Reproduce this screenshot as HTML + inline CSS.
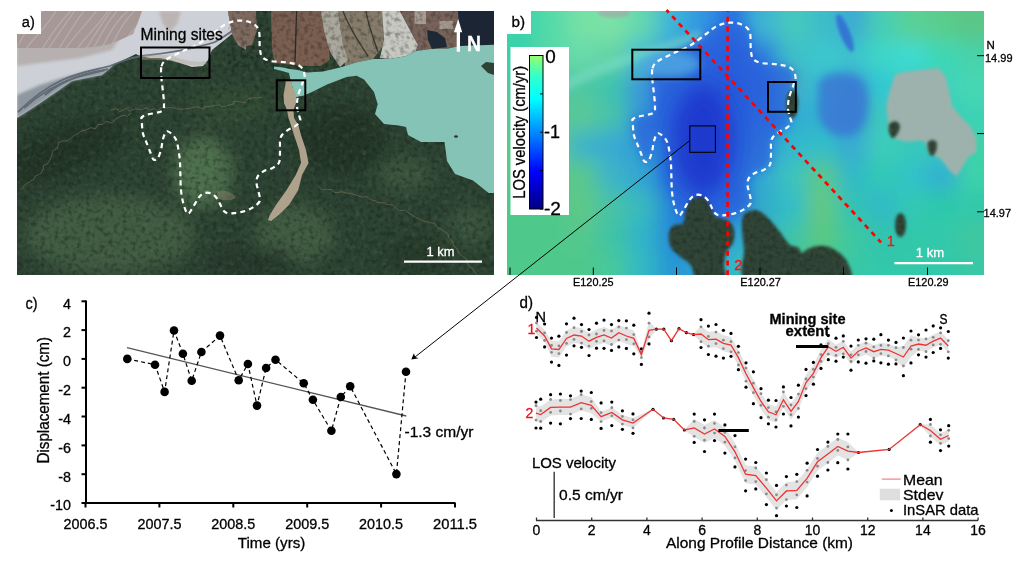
<!DOCTYPE html>
<html><head><meta charset="utf-8"><style>
html,body{margin:0;padding:0;background:#fff;width:1024px;height:564px;overflow:hidden}
svg{display:block;will-change:transform}
text{font-family:"Liberation Sans",sans-serif;stroke-width:0.3px}
</style></head><body>
<svg width="1024" height="564" viewBox="0 0 1024 564" font-family="Liberation Sans, sans-serif">
<defs>
<filter id="b05" x="-20%" y="-20%" width="140%" height="140%"><feGaussianBlur stdDeviation="0.6"/></filter>
<filter id="b2" x="-20%" y="-20%" width="140%" height="140%"><feGaussianBlur stdDeviation="1.5"/></filter>
<filter id="b3" x="-20%" y="-20%" width="140%" height="140%"><feGaussianBlur stdDeviation="3"/></filter>
<filter id="b4" x="-20%" y="-20%" width="140%" height="140%"><feGaussianBlur stdDeviation="4"/></filter>
<filter id="b8" x="-50%" y="-50%" width="200%" height="200%"><feGaussianBlur stdDeviation="8"/></filter>
<filter id="b10" x="-50%" y="-50%" width="200%" height="200%"><feGaussianBlur stdDeviation="10"/></filter>
<filter id="b12" x="-50%" y="-50%" width="200%" height="200%"><feGaussianBlur stdDeviation="14"/></filter>
<filter id="texd" x="0" y="0" width="100%" height="100%" color-interpolation-filters="sRGB"><feTurbulence type="fractalNoise" baseFrequency="0.22" numOctaves="2" seed="3"/><feColorMatrix type="matrix" values="0 0 0 0 0.08  0 0 0 0 0.12  0 0 0 0 0.09  2.2 0 0 0 -1.0"/></filter>
<filter id="texl" x="0" y="0" width="100%" height="100%" color-interpolation-filters="sRGB"><feTurbulence type="fractalNoise" baseFrequency="0.18" numOctaves="2" seed="11"/><feColorMatrix type="matrix" values="0 0 0 0 0.36  0 0 0 0 0.44  0 0 0 0 0.32  2.2 0 0 0 -1.1"/></filter>
</defs>
<clipPath id="ca"><rect x="17" y="11" width="477" height="264"/></clipPath>
<g clip-path="url(#ca)">
<rect x="17" y="11" width="477" height="264" fill="#2c4232"/>
<g filter="url(#b8)">
<ellipse cx="110" cy="235" rx="85" ry="40" fill="#405c42"/>
<ellipse cx="203" cy="172" rx="30" ry="36" fill="#4e6f4e"/>
<ellipse cx="295" cy="235" rx="40" ry="30" fill="#405c42"/>
<ellipse cx="405" cy="175" rx="28" ry="18" fill="#3a553e"/>
<ellipse cx="470" cy="225" rx="25" ry="20" fill="#38523c"/>
<ellipse cx="230" cy="105" rx="40" ry="20" fill="#324b36"/>
<ellipse cx="60" cy="152" rx="70" ry="24" fill="#213426" transform="rotate(-22 60 152)"/>
<ellipse cx="340" cy="140" rx="45" ry="35" fill="#233628"/>
<ellipse cx="250" cy="262" rx="45" ry="15" fill="#25382a"/>
<ellipse cx="420" cy="255" rx="35" ry="18" fill="#273a2c"/>
</g>
<rect x="17" y="11" width="477" height="264" filter="url(#texd)" opacity="0.55"/>
<path d="M19.9,189.5 L22.0,188.7 L24.9,184.7 L31.4,180.5 L33.5,179.8 L35.0,176.2 L40.7,173.8 L43.2,169.0 L43.8,165.1 L47.1,164.3 L49.8,160.0 L51.5,156.1 L52.8,150.7 L57.3,148.6 L58.7,142.5 L62.0,141.0 L65.9,141.1 L69.4,139.4 L75.7,134.4 L77.7,134.0 L80.3,131.7 L87.8,129.1 L91.0,127.6 L95.3,128.9 L98.3,124.2 L102.2,124.6 L106.3,121.5 L111.8,122.8 L115.4,119.3 L120.0,116.5 L123.6,115.2 L127.6,116.3 L131.0,113.0 M110.4,110.2 L116.6,108.6 L119.6,111.6 L126.5,108.3 L129.6,111.2 L132.2,109.8 L135.7,108.9 L142.2,109.5 L146.8,107.6 L149.4,110.3 L154.3,108.7 L157.6,110.5 L162.3,107.0 L167.1,108.0 L169.8,107.5 L173.8,107.8 L176.5,108.8 L180.6,109.2 L184.3,109.1 L191.1,108.0 L194.9,106.8 L199.1,107.2 L201.5,108.8 L206.2,106.4 L212.0,106.1 L215.5,105.1 L220.2,105.1 L221.6,106.9 L226.2,106.0 L233.4,104.0 L234.0,101.2 L239.0,101.6 L244.8,102.7 L248.3,98.7 L253.4,97.7 L256.1,98.2 L262.0,97.0 M318.7,186.4 L321.8,189.6 L327.0,189.3 L331.4,189.4 L334.8,192.5 L339.4,192.4 L340.6,191.6 L346.1,192.9 L350.5,193.5 L355.2,194.7 L356.6,195.2 L362.3,197.2 L366.3,196.5 L370.8,199.9 L375.1,200.6 L377.5,202.6 L384.7,202.8 L387.6,204.6 L393.1,204.8 L396.3,208.3 L399.3,210.8 L405.0,210.2 L409.1,213.2 L412.5,215.5 L415.1,217.0 L420.4,219.7 L424.0,221.2 L429.8,222.8 L434.4,223.1 L437.3,227.6 L441.6,229.3 L443.4,230.9 L448.0,234.1 L448.6,237.9 L452.7,241.7 L453.7,245.8 L457.4,249.0 L458.7,253.1 L463.3,256.7 L467.3,259.7 L466.6,261.5 L469.5,266.5 L471.9,268.0 L474.1,271.1 L478.0,276.0" stroke="#8c7c62" stroke-width="1" fill="none" opacity="0.5"/>
<rect x="17" y="11" width="477" height="264" filter="url(#texl)" opacity="0.35"/>
<path d="M17,11 L228,11 L230,22 L232,34 L222,42 L212,50 L208,60 L203,66 L192,67 L180,63 L170,60 L160,58 L150,58 L140,56 L136,54 L115,64 L102,75 L72,81 L59.5,89.7 L38,104.6 L17,118Z" fill="#cdd0d6" />
<path d="M17,44 L50,44 L78,45 L95,44 L110,41 L120,38 L112,50 L80,58 L40,63 L17,66Z" fill="#b6b0b0" filter="url(#b2)"/>
<path d="M17,11 L142,11 L138,22 L133,34 L120,40 L110,44 L95,47 L78,48 L50,48 L17,48Z" fill="#a69896" />
<clipPath id="pinkc"><path d="M17,11 L142,11 L138,22 L133,34 L120,40 L110,44 L95,47 L78,48 L50,48 L17,48Z"/></clipPath>
<path d="M-6.0,62 C5.0,46.0 15.0,27.0 33.5,8 M6.4,62 C19.9,48.5 24.8,24.5 45.8,8 M19.7,62 C26.0,41.2 45.5,31.8 57.5,8 M33.3,62 C44.5,46.2 54.1,26.8 73.7,8 M40.2,62 C49.9,44.8 62.4,28.2 76.7,8 M50.5,62 C61.1,45.6 72.0,27.4 85.6,8 M58.3,62 C66.5,43.2 82.0,29.8 98.8,8 M70.4,62 C77.7,42.3 95.1,30.7 110.2,8 M77.5,62 C88.5,45.9 98.6,27.1 113.3,8 M83.5,62 C96.5,48.0 102.6,25.0 119.8,8 M91.3,62 C105.1,48.9 109.4,24.1 131.5,8 M99.6,62 C113.3,48.7 117.9,24.3 137.8,8 M111.0,62 C118.6,42.6 135.3,30.4 151.6,8 M122.5,62 C136.2,48.7 140.8,24.3 162.9,8 M130.9,62 C139.8,43.9 154.0,29.1 166.9,8 M138.1,62 C144.6,41.5 163.5,31.5 174.9,8" clip-path="url(#pinkc)" stroke="#d2cccb" stroke-width="1.3" fill="none" opacity="0.38" filter="url(#b05)"/>
<path d="M228,11 L246,11 L246,50 L238,45 L232,34 L230,22Z" fill="#94807a" />
<path d="M159,11 L181,11 L177,24 L170,32 L163,24Z" fill="#bcb4b2" filter="url(#b2)"/>
<path d="M17,95 L40,85 L62,78 L85,72 L105,68 L115,64 L102,75 L72,81 L59.5,89.7 L38,104.6 L17,118Z" fill="#8e979f" filter="url(#b2)"/>
<g fill="none" stroke="#5c6670" stroke-width="1.8" opacity="0.9">
<path d="M18,112 C30,100 45,88 62,80 C80,72 95,70 110,66 C125,60 135,56 150,55 C175,52 200,47 215,42 C222,38 228,34 232,31"/>
<path d="M24,108 C40,94 56,84 74,78 C90,73 100,72 108,69"/>
<path d="M45,95 C60,82 80,74 105,70"/>
</g>
<path d="M142,56 C150,54 165,54 175,57 C185,60 195,63 205,61 L207,64 C195,67 185,65 175,62 C165,59 150,59 142,60Z" fill="#b5ab96" opacity="0.45"/>
<path d="M228,11 L256,11 L257,30 L252,45 L243,47 L236,40 L232,34 L230,22Z" fill="#806a60" />
<path d="M271,11 L326,11 L328,40 L330,60 L320,66 L300,66 L285,64 L275,63 L272,50Z" fill="#7a5e50" />
<path d="M296.6,11 L295,62" stroke="#2a2a28" stroke-width="1.3"/>
<path d="M338,11 L382,11 L384,45 L373,59 L356,62.5 L345,66 L343,45Z" fill="#877c6c" />
<path d="M343,11 C348,25 356,38 368,56 M366,11 C368,25 374,40 378,52" stroke="#3c3c36" stroke-width="1.4" fill="none"/>
<path d="M321,11 L338,11 L343,45 L348,60 L340,67 L330,52 L324,30Z" fill="#aaa79d" />
<path d="M382,11 L400,11 L410,30 L418,45 L416,51 L406,56 L390,59 L380,58 L384,40Z" fill="#c8c8c2" />
<path d="M400,11 L460,11 L460,46 L448,48.4 L431,49 L416,51 L418,45 L410,30Z" fill="#78625a" />
<path d="M414.6,11 L426,11 L426,24 L414.6,24Z" fill="#a89c92" />
<path d="M439.5,21 L452.8,21 L452.8,29 L439.5,29Z" fill="#a89c92" />
<rect x="228" y="11" width="232" height="60" filter="url(#texd)" opacity="0.45"/>
<path d="M458,11 L494,11 L494,44.7 L460,46Z" fill="#1b2533" />
<path d="M427,30 L437,32 L445,38 L447,47 L432,49 L428,40Z" fill="#1d2a36" />
<path d="M274,66.5 L283,67.5 L290,69 L298,70 L307,72.5 L323,71.6 L340,67.5 L356,62.5 L373,59 L390,59 L406,56 L416,51 L431,49 L448,48.4 L460,46 L494,44.7 L494,193 L488.6,193 L473,180.5 L455,174 L447,161 L444.5,142 L421,142 L408,135 L406,127 L398.8,125.4 L384,124 L375,114 L377.7,104.3 L374,92 L364,79.5 L356.6,75.8 L346.7,77 L327,84.4 L322,87 L312,92 L304,95.5 L296,97 L293,89 L290.5,80 L289,73 L282,71 L274,69Z" fill="#84c3b5" />
<path d="M481,66 L486,62 L494,63 L494,75 L488,73Z" fill="#2f4236" />
<ellipse cx="456" cy="136.5" rx="2" ry="1.3" fill="#333"/>
<path d="M217,192 C222,189 230,191 236,197 C233,201 226,201 219,199Z" fill="#9c8c74" opacity="0.4" filter="url(#b05)"/>
<path d="M286,80 L285,87 L283.5,95 L284,103 L287,110 L288.5,118 L290.9,125 L294,135 L299,150 L301,163 L295.7,175 L286.6,190 L276,205 L269.8,215 L268,220 L271,221 L278.8,215 L289,205 L298.3,190 L302,175 L308.6,163 L306,150 L301,135 L298.3,125 L294,118 L293.5,110 L296,103 L296,95 L292.5,87 L291,80Z" fill="#aea28c" filter="url(#b05)"/>
</g>
<path d="M161.5,66.3 C162.4,63 163.4,61.5 167,59 C170.6,56.5 177.5,53.7 183,51 C188.5,48.3 194.7,46.2 200,43 C205.3,39.8 210.7,35.2 215,32 C219.3,28.8 222.1,25.9 226,24 C229.9,22.1 234.3,20.8 238.5,20.6 C242.7,20.4 247.6,21.1 251,22.7 C254.4,24.3 257.2,25.9 258.7,30 C260.2,34 259.2,42.5 259.8,47 C260.4,51.5 260.2,54.4 262,56.7 C263.8,59 266.2,60 270.4,61 C274.6,62 282.4,61.6 287.4,62.5 C292.4,63.4 297.3,64.2 300.2,66.3 C303.1,68.3 304.1,72 304.5,74.8 C304.9,77.6 303.4,79.8 302.3,83.3 C301.2,86.8 298.9,92.1 298,96 C297.1,99.9 296.8,103.5 297,106.7 C297.2,109.9 298.5,112.9 299,115.3 C299.5,117.7 300.9,119.2 300.2,121 C299.5,122.8 296.8,125 294.9,126.4 C292.9,127.8 290.6,128.2 288.5,129.6 C286.4,131 283.4,133.1 282,135 C280.6,136.9 280.3,138.2 280,141 C279.7,143.8 280.2,148.4 280,152 C279.8,155.6 280.2,159.9 279,162.6 C277.8,165.3 275.1,166.6 272.6,168 C270.1,169.4 266.5,169.6 264,171 C261.5,172.4 258.9,174.3 257.7,176.4 C256.5,178.5 256.4,181.2 256.6,183.8 C256.8,186.5 258.2,189.4 258.7,192.3 C259.2,195.2 260.7,198.6 259.8,201 C258.9,203.4 255.9,205.3 253.4,207 C250.9,208.7 248.2,210 245,211 C241.8,212 237.5,212.9 234.3,213.2 C231.1,213.5 227.8,213.6 225.7,212.6 C223.6,211.6 222.9,209.3 221.5,207 C220.1,204.7 218.9,201 217.2,198.7 C215.4,196.4 213.3,194.3 211,193.4 C208.7,192.5 205.6,192.5 203.4,193.4 C201.2,194.3 199.9,196 198,198.7 C196.1,201.4 193.5,206.9 191.7,209.4 C189.9,211.9 188.8,214.7 187.4,213.6 C186,212.5 184.3,206.9 183.2,203 C182.1,199.1 181.5,194.7 181,190 C180.5,185.3 180.6,179.6 180.4,175 C180.2,170.4 180.3,166.8 180,162.6 C179.7,158.4 179.2,153.7 178.5,149.8 C177.8,145.9 177,141.8 175.7,139 C174.3,136.2 172,134 170.4,132.8 C168.8,131.6 167.4,130.7 166.2,131.7 C165,132.7 163.9,136 163,139 C162.1,142 161.9,146.6 161,149.8 C160.1,153 159,156.7 157.7,158.3 C156.4,159.9 154.7,160.5 153.4,159.4 C152.2,158.3 151.4,155 150.2,152 C149,149 147.2,144.5 146,141.3 C144.8,138.1 143.5,136.4 142.8,132.8 C142.1,129.2 141.9,122.6 141.7,120 C141.5,117.4 140.8,118.3 141.7,117.4 C142.6,116.5 143.6,115.9 147,114.8 C150.4,113.7 159.2,112.7 162,111 C164.8,109.3 163.8,107.8 164,104.6 C164.2,101.4 163.4,96.3 163,92 C162.6,87.7 161.8,83.3 161.5,79 C161.2,74.7 160.6,69.6 161.5,66.3Z" fill="none" stroke="#fff" stroke-width="2.2" stroke-dasharray="5 4"/>
<rect x="141" y="47.5" width="68.5" height="30.5" fill="none" stroke="#000" stroke-width="2"/>
<rect x="276.8" y="80.3" width="28.5" height="30" fill="none" stroke="#000" stroke-width="2"/>
<text x="140.5" y="40" font-size="16" text-anchor="start" fill="#000" stroke="#000" textLength="82.3" lengthAdjust="spacingAndGlyphs" >Mining sites</text>
<rect x="17" y="11" width="24" height="23" fill="#fff"/>
<text x="21.8" y="27" font-size="15.5" text-anchor="start" fill="#000" stroke="#000" textLength="13" lengthAdjust="spacingAndGlyphs" >a)</text>
<path d="M404,261.6 H482" stroke="#fff" stroke-width="2.2"/>
<text x="440.6" y="256" font-size="13" text-anchor="middle" fill="#fff" stroke="#fff" textLength="28" lengthAdjust="spacingAndGlyphs" >1 km</text>
<path d="M458.2,19 L462.2,32.3 L460,32.3 L460,51.8 L456.7,51.8 L456.7,32.3 L454,32.3Z" fill="#fff"/>
<text x="467" y="50.9" font-size="22" text-anchor="start" fill="#fff" stroke="#fff" textLength="14" lengthAdjust="spacingAndGlyphs" font-weight="bold" >N</text>
<clipPath id="cb"><rect x="507" y="11" width="477" height="264"/></clipPath>
<g clip-path="url(#cb)">
<rect x="507" y="11" width="477" height="264" fill="#42c49c"/>
<g filter="url(#b10)">
<rect x="477" y="-19" width="31" height="31" fill="#37d4aa"/>
<rect x="507" y="-19" width="31" height="31" fill="#37d4aa"/>
<rect x="537" y="-19" width="31" height="31" fill="#55daa8"/>
<rect x="567" y="-19" width="31" height="31" fill="#76e1a5"/>
<rect x="597" y="-19" width="31" height="31" fill="#7ae2a6"/>
<rect x="627" y="-19" width="31" height="31" fill="#64d7af"/>
<rect x="657" y="-19" width="31" height="31" fill="#3cb4d7"/>
<rect x="687" y="-19" width="31" height="31" fill="#3296e1"/>
<rect x="717" y="-19" width="31" height="31" fill="#286ee1"/>
<rect x="747" y="-19" width="31" height="31" fill="#3cb4d2"/>
<rect x="777" y="-19" width="31" height="31" fill="#46c8be"/>
<rect x="807" y="-19" width="31" height="31" fill="#3cbec8"/>
<rect x="837" y="-19" width="31" height="31" fill="#3caad2"/>
<rect x="867" y="-19" width="31" height="31" fill="#46cdb4"/>
<rect x="897" y="-19" width="31" height="31" fill="#5ad096"/>
<rect x="927" y="-19" width="31" height="31" fill="#5acd8c"/>
<rect x="957" y="-19" width="31" height="31" fill="#5ac687"/>
<rect x="987" y="-19" width="31" height="31" fill="#5ac687"/>
<rect x="477" y="11" width="31" height="31" fill="#37d4aa"/>
<rect x="507" y="11" width="31" height="31" fill="#37d4aa"/>
<rect x="537" y="11" width="31" height="31" fill="#55daa8"/>
<rect x="567" y="11" width="31" height="31" fill="#76e1a5"/>
<rect x="597" y="11" width="31" height="31" fill="#7ae2a6"/>
<rect x="627" y="11" width="31" height="31" fill="#64d7af"/>
<rect x="657" y="11" width="31" height="31" fill="#3cb4d7"/>
<rect x="687" y="11" width="31" height="31" fill="#3296e1"/>
<rect x="717" y="11" width="31" height="31" fill="#286ee1"/>
<rect x="747" y="11" width="31" height="31" fill="#3cb4d2"/>
<rect x="777" y="11" width="31" height="31" fill="#46c8be"/>
<rect x="807" y="11" width="31" height="31" fill="#3cbec8"/>
<rect x="837" y="11" width="31" height="31" fill="#3caad2"/>
<rect x="867" y="11" width="31" height="31" fill="#46cdb4"/>
<rect x="897" y="11" width="31" height="31" fill="#5ad096"/>
<rect x="927" y="11" width="31" height="31" fill="#5acd8c"/>
<rect x="957" y="11" width="31" height="31" fill="#5ac687"/>
<rect x="987" y="11" width="31" height="31" fill="#5ac687"/>
<rect x="477" y="41" width="31" height="31" fill="#3cd0a8"/>
<rect x="507" y="41" width="31" height="31" fill="#3cd0a8"/>
<rect x="537" y="41" width="31" height="31" fill="#5ad7a8"/>
<rect x="567" y="41" width="31" height="31" fill="#69daac"/>
<rect x="597" y="41" width="31" height="31" fill="#64d4a5"/>
<rect x="627" y="41" width="31" height="31" fill="#46bed2"/>
<rect x="657" y="41" width="31" height="31" fill="#3ca0dc"/>
<rect x="687" y="41" width="31" height="31" fill="#2864e1"/>
<rect x="717" y="41" width="31" height="31" fill="#2350dc"/>
<rect x="747" y="41" width="31" height="31" fill="#2d78dc"/>
<rect x="777" y="41" width="31" height="31" fill="#3cbec8"/>
<rect x="807" y="41" width="31" height="31" fill="#3cc8cd"/>
<rect x="837" y="41" width="31" height="31" fill="#3cc3cd"/>
<rect x="867" y="41" width="31" height="31" fill="#3cd7c8"/>
<rect x="897" y="41" width="31" height="31" fill="#3cdcd2"/>
<rect x="927" y="41" width="31" height="31" fill="#3cd7b4"/>
<rect x="957" y="41" width="31" height="31" fill="#46d2aa"/>
<rect x="987" y="41" width="31" height="31" fill="#46d2aa"/>
<rect x="477" y="71" width="31" height="31" fill="#50c8a0"/>
<rect x="507" y="71" width="31" height="31" fill="#50c8a0"/>
<rect x="537" y="71" width="31" height="31" fill="#50c8a0"/>
<rect x="567" y="71" width="31" height="31" fill="#50c8a0"/>
<rect x="597" y="71" width="31" height="31" fill="#3cc3af"/>
<rect x="627" y="71" width="31" height="31" fill="#3c96d7"/>
<rect x="657" y="71" width="31" height="31" fill="#2864dc"/>
<rect x="687" y="71" width="31" height="31" fill="#234bd7"/>
<rect x="717" y="71" width="31" height="31" fill="#1e3cd7"/>
<rect x="747" y="71" width="31" height="31" fill="#2864dc"/>
<rect x="777" y="71" width="31" height="31" fill="#46aac8"/>
<rect x="807" y="71" width="31" height="31" fill="#32bed2"/>
<rect x="837" y="71" width="31" height="31" fill="#37a0d2"/>
<rect x="867" y="71" width="31" height="31" fill="#32c8d2"/>
<rect x="897" y="71" width="31" height="31" fill="#3ccdc3"/>
<rect x="927" y="71" width="31" height="31" fill="#3cd2be"/>
<rect x="957" y="71" width="31" height="31" fill="#46d7b4"/>
<rect x="987" y="71" width="31" height="31" fill="#46d7b4"/>
<rect x="477" y="101" width="31" height="31" fill="#55c896"/>
<rect x="507" y="101" width="31" height="31" fill="#55c896"/>
<rect x="537" y="101" width="31" height="31" fill="#55c896"/>
<rect x="567" y="101" width="31" height="31" fill="#5ac896"/>
<rect x="597" y="101" width="31" height="31" fill="#46c3aa"/>
<rect x="627" y="101" width="31" height="31" fill="#3296d7"/>
<rect x="657" y="101" width="31" height="31" fill="#285adc"/>
<rect x="687" y="101" width="31" height="31" fill="#1e37d2"/>
<rect x="717" y="101" width="31" height="31" fill="#234bd7"/>
<rect x="747" y="101" width="31" height="31" fill="#286edc"/>
<rect x="777" y="101" width="31" height="31" fill="#32aad2"/>
<rect x="807" y="101" width="31" height="31" fill="#32b4d2"/>
<rect x="837" y="101" width="31" height="31" fill="#3796d2"/>
<rect x="867" y="101" width="31" height="31" fill="#3cc8be"/>
<rect x="897" y="101" width="31" height="31" fill="#37cdbe"/>
<rect x="927" y="101" width="31" height="31" fill="#37cdbe"/>
<rect x="957" y="101" width="31" height="31" fill="#3cd2b4"/>
<rect x="987" y="101" width="31" height="31" fill="#3cd2b4"/>
<rect x="477" y="131" width="31" height="31" fill="#5fc88c"/>
<rect x="507" y="131" width="31" height="31" fill="#5fc88c"/>
<rect x="537" y="131" width="31" height="31" fill="#5fc88c"/>
<rect x="567" y="131" width="31" height="31" fill="#3cb4c8"/>
<rect x="597" y="131" width="31" height="31" fill="#37aad2"/>
<rect x="627" y="131" width="31" height="31" fill="#329bd7"/>
<rect x="657" y="131" width="31" height="31" fill="#2864dc"/>
<rect x="687" y="131" width="31" height="31" fill="#1932d2"/>
<rect x="717" y="131" width="31" height="31" fill="#2350d7"/>
<rect x="747" y="131" width="31" height="31" fill="#328cd7"/>
<rect x="777" y="131" width="31" height="31" fill="#32b9cd"/>
<rect x="807" y="131" width="31" height="31" fill="#32bec8"/>
<rect x="837" y="131" width="31" height="31" fill="#37aad2"/>
<rect x="867" y="131" width="31" height="31" fill="#3ccdb9"/>
<rect x="897" y="131" width="31" height="31" fill="#37c8b9"/>
<rect x="927" y="131" width="31" height="31" fill="#37c8b9"/>
<rect x="957" y="131" width="31" height="31" fill="#3cd2aa"/>
<rect x="987" y="131" width="31" height="31" fill="#3cd2aa"/>
<rect x="477" y="161" width="31" height="31" fill="#5ac88c"/>
<rect x="507" y="161" width="31" height="31" fill="#5ac88c"/>
<rect x="537" y="161" width="31" height="31" fill="#5ac88c"/>
<rect x="567" y="161" width="31" height="31" fill="#5ac88c"/>
<rect x="597" y="161" width="31" height="31" fill="#3cb4c8"/>
<rect x="627" y="161" width="31" height="31" fill="#32a5d2"/>
<rect x="657" y="161" width="31" height="31" fill="#2864dc"/>
<rect x="687" y="161" width="31" height="31" fill="#1e46d7"/>
<rect x="717" y="161" width="31" height="31" fill="#2864dc"/>
<rect x="747" y="161" width="31" height="31" fill="#32aad2"/>
<rect x="777" y="161" width="31" height="31" fill="#3cc3be"/>
<rect x="807" y="161" width="31" height="31" fill="#5ac88c"/>
<rect x="837" y="161" width="31" height="31" fill="#32b9c8"/>
<rect x="867" y="161" width="31" height="31" fill="#32c8b4"/>
<rect x="897" y="161" width="31" height="31" fill="#32c3c8"/>
<rect x="927" y="161" width="31" height="31" fill="#32afd2"/>
<rect x="957" y="161" width="31" height="31" fill="#3cd2aa"/>
<rect x="987" y="161" width="31" height="31" fill="#3cd2aa"/>
<rect x="477" y="191" width="31" height="31" fill="#50c88c"/>
<rect x="507" y="191" width="31" height="31" fill="#50c88c"/>
<rect x="537" y="191" width="31" height="31" fill="#50c88c"/>
<rect x="567" y="191" width="31" height="31" fill="#5fc887"/>
<rect x="597" y="191" width="31" height="31" fill="#46c3a5"/>
<rect x="627" y="191" width="31" height="31" fill="#37b9be"/>
<rect x="657" y="191" width="31" height="31" fill="#2887d7"/>
<rect x="687" y="191" width="31" height="31" fill="#2350dc"/>
<rect x="717" y="191" width="31" height="31" fill="#286edc"/>
<rect x="747" y="191" width="31" height="31" fill="#32aac8"/>
<rect x="777" y="191" width="31" height="31" fill="#32bec8"/>
<rect x="807" y="191" width="31" height="31" fill="#64c882"/>
<rect x="837" y="191" width="31" height="31" fill="#32c3b4"/>
<rect x="867" y="191" width="31" height="31" fill="#32b9c8"/>
<rect x="897" y="191" width="31" height="31" fill="#32c8b4"/>
<rect x="927" y="191" width="31" height="31" fill="#2dc8aa"/>
<rect x="957" y="191" width="31" height="31" fill="#32c8aa"/>
<rect x="987" y="191" width="31" height="31" fill="#32c8aa"/>
<rect x="477" y="221" width="31" height="31" fill="#50c88c"/>
<rect x="507" y="221" width="31" height="31" fill="#50c88c"/>
<rect x="537" y="221" width="31" height="31" fill="#50c88c"/>
<rect x="567" y="221" width="31" height="31" fill="#55c88c"/>
<rect x="597" y="221" width="31" height="31" fill="#41c3a5"/>
<rect x="627" y="221" width="31" height="31" fill="#32b4c8"/>
<rect x="657" y="221" width="31" height="31" fill="#288cd7"/>
<rect x="687" y="221" width="31" height="31" fill="#2878d7"/>
<rect x="717" y="221" width="31" height="31" fill="#32a0d2"/>
<rect x="747" y="221" width="31" height="31" fill="#32b4c8"/>
<rect x="777" y="221" width="31" height="31" fill="#3cc3aa"/>
<rect x="807" y="221" width="31" height="31" fill="#5ac882"/>
<rect x="837" y="221" width="31" height="31" fill="#3cc8a0"/>
<rect x="867" y="221" width="31" height="31" fill="#32c3af"/>
<rect x="897" y="221" width="31" height="31" fill="#32c8aa"/>
<rect x="927" y="221" width="31" height="31" fill="#32c8aa"/>
<rect x="957" y="221" width="31" height="31" fill="#3cc8a0"/>
<rect x="987" y="221" width="31" height="31" fill="#3cc8a0"/>
<rect x="477" y="251" width="31" height="31" fill="#50c88c"/>
<rect x="507" y="251" width="31" height="31" fill="#50c88c"/>
<rect x="537" y="251" width="31" height="31" fill="#50c88c"/>
<rect x="567" y="251" width="31" height="31" fill="#50c88c"/>
<rect x="597" y="251" width="31" height="31" fill="#46c89b"/>
<rect x="627" y="251" width="31" height="31" fill="#32b9c3"/>
<rect x="657" y="251" width="31" height="31" fill="#2896d4"/>
<rect x="687" y="251" width="31" height="31" fill="#2da0d2"/>
<rect x="717" y="251" width="31" height="31" fill="#32b9c8"/>
<rect x="747" y="251" width="31" height="31" fill="#3cc3aa"/>
<rect x="777" y="251" width="31" height="31" fill="#46c896"/>
<rect x="807" y="251" width="31" height="31" fill="#50c88c"/>
<rect x="837" y="251" width="31" height="31" fill="#37c8a5"/>
<rect x="867" y="251" width="31" height="31" fill="#32c8aa"/>
<rect x="897" y="251" width="31" height="31" fill="#32c8aa"/>
<rect x="927" y="251" width="31" height="31" fill="#32c8aa"/>
<rect x="957" y="251" width="31" height="31" fill="#37c8a5"/>
<rect x="987" y="251" width="31" height="31" fill="#37c8a5"/>
<rect x="477" y="281" width="31" height="31" fill="#50c88c"/>
<rect x="507" y="281" width="31" height="31" fill="#50c88c"/>
<rect x="537" y="281" width="31" height="31" fill="#50c88c"/>
<rect x="567" y="281" width="31" height="31" fill="#50c88c"/>
<rect x="597" y="281" width="31" height="31" fill="#46c89b"/>
<rect x="627" y="281" width="31" height="31" fill="#32b9c3"/>
<rect x="657" y="281" width="31" height="31" fill="#2896d4"/>
<rect x="687" y="281" width="31" height="31" fill="#2da0d2"/>
<rect x="717" y="281" width="31" height="31" fill="#32b9c8"/>
<rect x="747" y="281" width="31" height="31" fill="#3cc3aa"/>
<rect x="777" y="281" width="31" height="31" fill="#46c896"/>
<rect x="807" y="281" width="31" height="31" fill="#50c88c"/>
<rect x="837" y="281" width="31" height="31" fill="#37c8a5"/>
<rect x="867" y="281" width="31" height="31" fill="#32c8aa"/>
<rect x="897" y="281" width="31" height="31" fill="#32c8aa"/>
<rect x="927" y="281" width="31" height="31" fill="#32c8aa"/>
<rect x="957" y="281" width="31" height="31" fill="#37c8a5"/>
<rect x="987" y="281" width="31" height="31" fill="#37c8a5"/>
</g>
<path d="M560,82 C585,70 610,58 640,50 C660,45 680,38 700,30 L705,38 C685,46 660,55 640,60 C615,68 590,78 565,92Z" fill="#7adcc4" opacity="0.6" filter="url(#b3)"/>
<ellipse cx="614" cy="13" rx="16" ry="5" fill="#a8a0a8" opacity="0.6" filter="url(#b2)"/>
<path d="M652.5,68.3 C653.4,65 654.4,63.5 658,61 C661.6,58.5 668.5,55.7 674,53 C679.5,50.3 685.7,48.2 691,45 C696.3,41.8 701.7,37.2 706,34 C710.3,30.8 713.1,27.9 717,26 C720.9,24.1 725.3,22.8 729.5,22.6 C733.7,22.4 738.6,23.1 742,24.7 C745.4,26.3 748.2,27.9 749.7,32 C751.2,36 750.2,44.5 750.8,49 C751.3,53.5 751.2,56.4 753,58.7 C754.8,61 757.2,62 761.4,63 C765.6,64 773.4,63.6 778.4,64.5 C783.4,65.4 788.4,66.2 791.2,68.3 C794.1,70.3 795.1,74 795.5,76.8 C795.9,79.6 794.4,81.8 793.3,85.3 C792.2,88.8 789.9,94.1 789,98 C788.1,101.9 787.8,105.5 788,108.7 C788.2,111.9 789.5,114.9 790,117.3 C790.5,119.7 791.9,121.2 791.2,123 C790.5,124.8 787.9,127 785.9,128.4 C783.9,129.8 781.6,130.2 779.5,131.6 C777.4,133 774.4,135.1 773,137 C771.6,138.9 771.3,140.2 771,143 C770.7,145.8 771.2,150.4 771,154 C770.8,157.6 771.2,161.9 770,164.6 C768.8,167.3 766.1,168.6 763.6,170 C761.1,171.4 757.5,171.6 755,173 C752.5,174.4 749.9,176.3 748.7,178.4 C747.5,180.5 747.4,183.2 747.6,185.8 C747.8,188.5 749.2,191.4 749.7,194.3 C750.2,197.2 751.7,200.6 750.8,203 C749.9,205.4 746.9,207.3 744.4,209 C741.9,210.7 739.2,212 736,213 C732.8,214 728.5,214.9 725.3,215.2 C722.1,215.5 718.8,215.6 716.7,214.6 C714.6,213.6 713.9,211.3 712.5,209 C711.1,206.7 710,203 708.2,200.7 C706.5,198.4 704.3,196.3 702,195.4 C699.7,194.5 696.6,194.5 694.4,195.4 C692.2,196.3 691,198 689,200.7 C687,203.4 684.5,208.9 682.7,211.4 C680.9,213.9 679.8,216.7 678.4,215.6 C677,214.5 675.3,208.9 674.2,205 C673.1,201.1 672.5,196.7 672,192 C671.5,187.3 671.6,181.6 671.4,177 C671.2,172.4 671.3,168.8 671,164.6 C670.7,160.4 670.2,155.7 669.5,151.8 C668.8,147.9 668.1,143.8 666.7,141 C665.4,138.2 663,136 661.4,134.8 C659.8,133.6 658.4,132.7 657.2,133.7 C656,134.7 654.9,138 654,141 C653.1,144 652.9,148.6 652,151.8 C651.1,155 650,158.7 648.7,160.3 C647.4,161.9 645.6,162.5 644.4,161.4 C643.1,160.3 642.4,157 641.2,154 C640,151 638.2,146.5 637,143.3 C635.8,140.1 634.5,138.4 633.8,134.8 C633.1,131.2 632.9,124.6 632.7,122 C632.5,119.4 631.8,120.3 632.7,119.4 C633.6,118.5 634.6,117.9 638,116.8 C641.4,115.7 650.2,114.7 653,113 C655.8,111.3 654.8,109.8 655,106.6 C655.2,103.4 654.4,98.3 654,94 C653.6,89.7 652.8,85.3 652.5,81 C652.2,76.7 651.6,71.6 652.5,68.3Z" fill="#2a64dc" opacity="0.75" filter="url(#b4)"/>
<ellipse cx="703" cy="140" rx="30" ry="55" fill="#1a36cc" opacity="0.85" filter="url(#b10)"/>
<ellipse cx="670" cy="64" rx="30" ry="13" fill="#50a8e0" opacity="0.8" filter="url(#b4)"/>
<path d="M818,85 C820,74 835,72 850,74 C862,76 868,85 868,100 C868,118 862,134 848,136 C832,138 820,128 818,112Z" fill="#3a78d4" opacity="0.85" filter="url(#b4)"/>
<ellipse cx="845" cy="33" rx="5" ry="20" fill="#3066d4" opacity="0.8" transform="rotate(-22 845 33)" filter="url(#b2)"/>
<g filter="url(#b2)">
<path d="M894.6,76.1 L899.2,72.7 L938.4,68.1 L945.3,76.1 L948.8,90 L952.2,106.1 L961.4,117.6 L970.7,126.9 L976.4,138.4 L976.4,152.2 L968.3,156.8 L961.4,168.3 L956.8,176.4 L949.9,170.7 L940.7,159.1 L929.2,152.2 L924.5,140.7 L915.3,140.7 L906.1,141.8 L894.6,138.4 L888.8,126.9 L886.5,106.1 L888.8,94.6 L892.3,83.1Z" fill="#9db2ac" />
</g>
<mask id="pmask" maskUnits="userSpaceOnUse" x="500" y="0" width="500" height="290"><g fill="#fff" filter="url(#b2)"><path d="M693,198.8 C695.6,197.9 701.2,196.2 704.2,197.7 C707.2,199.2 708.9,204.5 710.8,207.6 C712.6,210.7 712.3,214.3 715.3,216.5 C718.3,218.7 725.5,218.7 728.6,220.9 C731.7,223.1 733.4,226.1 734.1,229.8 C734.8,233.5 734.3,239.4 733,243.1 C731.7,246.8 727.9,248.3 726.4,252 C724.9,255.7 724.5,260.6 724.1,265.3 C723.7,270 728.5,277.6 724.1,280 C719.7,282.4 703,282.4 697.5,280 C692,277.6 693.9,269.2 690.9,265.3 C687.9,261.4 683.1,259.4 679.8,256.4 C676.5,253.4 672.8,251.2 670.9,247.5 C669,243.8 668.3,237.9 668.7,234.2 C669.1,230.5 670.8,227.2 673.2,225.4 C675.6,223.6 681.1,225.4 683.1,223.2 C685.1,221 684.4,215.4 685.3,212.1 C686.2,208.8 687.4,205.4 688.7,203.2 C690,201 690.4,199.7 693,198.8Z"/><path d="M744.1,214.3 C746.3,211.4 751.9,209.9 755.2,209.9 C758.5,209.9 761,212.1 764,214.3 C767,216.5 770.2,220.2 772.9,223.2 C775.6,226.1 777.1,228.4 780,232 C782.9,235.6 786.7,242 790,245 C793.3,248 797.5,244.2 800,250 C802.5,255.8 814,275 805,280 C796,285 756.4,285 746.3,280 C736.1,275 744.8,258.5 744.1,249.8 C743.4,241.1 741.9,233.5 741.9,227.6 C741.9,221.7 741.9,217.2 744.1,214.3Z"/><path d="M800,255 C810,245 825,243 835,250 C845,255 850,265 852,275 L852,280 L800,280Z"/><path d="M889,125 C892,120 898,120 900,126 C899,132 896,138 892,138 C889,134 888,130 889,125Z"/><path d="M928,142 C931,139 936,139 937,144 C937,150 935,156 931,156 C928,152 927,147 928,142Z"/><ellipse cx="900.5" cy="225" rx="5.5" ry="12"/><ellipse cx="792" cy="104" rx="6" ry="14"/></g></mask>
<g mask="url(#pmask)">
<rect x="507" y="11" width="477" height="264" fill="#2f4336"/>
<rect x="507" y="11" width="477" height="264" filter="url(#texd)" opacity="0.5"/>
<rect x="507" y="11" width="477" height="264" filter="url(#texl)" opacity="0.2"/>
</g>
</g>
</g>
<path d="M652.5,68.3 C653.4,65 654.4,63.5 658,61 C661.6,58.5 668.5,55.7 674,53 C679.5,50.3 685.7,48.2 691,45 C696.3,41.8 701.7,37.2 706,34 C710.3,30.8 713.1,27.9 717,26 C720.9,24.1 725.3,22.8 729.5,22.6 C733.7,22.4 738.6,23.1 742,24.7 C745.4,26.3 748.2,27.9 749.7,32 C751.2,36 750.2,44.5 750.8,49 C751.3,53.5 751.2,56.4 753,58.7 C754.8,61 757.2,62 761.4,63 C765.6,64 773.4,63.6 778.4,64.5 C783.4,65.4 788.4,66.2 791.2,68.3 C794.1,70.3 795.1,74 795.5,76.8 C795.9,79.6 794.4,81.8 793.3,85.3 C792.2,88.8 789.9,94.1 789,98 C788.1,101.9 787.8,105.5 788,108.7 C788.2,111.9 789.5,114.9 790,117.3 C790.5,119.7 791.9,121.2 791.2,123 C790.5,124.8 787.9,127 785.9,128.4 C783.9,129.8 781.6,130.2 779.5,131.6 C777.4,133 774.4,135.1 773,137 C771.6,138.9 771.3,140.2 771,143 C770.7,145.8 771.2,150.4 771,154 C770.8,157.6 771.2,161.9 770,164.6 C768.8,167.3 766.1,168.6 763.6,170 C761.1,171.4 757.5,171.6 755,173 C752.5,174.4 749.9,176.3 748.7,178.4 C747.5,180.5 747.4,183.2 747.6,185.8 C747.8,188.5 749.2,191.4 749.7,194.3 C750.2,197.2 751.7,200.6 750.8,203 C749.9,205.4 746.9,207.3 744.4,209 C741.9,210.7 739.2,212 736,213 C732.8,214 728.5,214.9 725.3,215.2 C722.1,215.5 718.8,215.6 716.7,214.6 C714.6,213.6 713.9,211.3 712.5,209 C711.1,206.7 710,203 708.2,200.7 C706.5,198.4 704.3,196.3 702,195.4 C699.7,194.5 696.6,194.5 694.4,195.4 C692.2,196.3 691,198 689,200.7 C687,203.4 684.5,208.9 682.7,211.4 C680.9,213.9 679.8,216.7 678.4,215.6 C677,214.5 675.3,208.9 674.2,205 C673.1,201.1 672.5,196.7 672,192 C671.5,187.3 671.6,181.6 671.4,177 C671.2,172.4 671.3,168.8 671,164.6 C670.7,160.4 670.2,155.7 669.5,151.8 C668.8,147.9 668.1,143.8 666.7,141 C665.4,138.2 663,136 661.4,134.8 C659.8,133.6 658.4,132.7 657.2,133.7 C656,134.7 654.9,138 654,141 C653.1,144 652.9,148.6 652,151.8 C651.1,155 650,158.7 648.7,160.3 C647.4,161.9 645.6,162.5 644.4,161.4 C643.1,160.3 642.4,157 641.2,154 C640,151 638.2,146.5 637,143.3 C635.8,140.1 634.5,138.4 633.8,134.8 C633.1,131.2 632.9,124.6 632.7,122 C632.5,119.4 631.8,120.3 632.7,119.4 C633.6,118.5 634.6,117.9 638,116.8 C641.4,115.7 650.2,114.7 653,113 C655.8,111.3 654.8,109.8 655,106.6 C655.2,103.4 654.4,98.3 654,94 C653.6,89.7 652.8,85.3 652.5,81 C652.2,76.7 651.6,71.6 652.5,68.3Z" fill="none" stroke="#fff" stroke-width="2.2" stroke-dasharray="5 4"/>
<path d="M727.6,11 V275" stroke="#ff0000" stroke-width="2.7" stroke-dasharray="5 4.75" stroke-dashoffset="3.95" fill="none"/>
<path d="M666.5,10 L881,242.4" stroke="#ff0000" stroke-width="2.7" stroke-dasharray="5 4.8" stroke-dashoffset="1.5" fill="none"/>
<text x="886.8" y="246.4" font-size="14.5" text-anchor="start" fill="#ff1010" stroke="#ff1010" >1</text>
<text x="734.3" y="270" font-size="14.5" text-anchor="start" fill="#ff1010" stroke="#ff1010" >2</text>
<rect x="632.3" y="49.7" width="68" height="29.6" fill="none" stroke="#000" stroke-width="2"/>
<rect x="768" y="82" width="27.8" height="29.8" fill="none" stroke="#000" stroke-width="2"/>
<rect x="689.8" y="125.9" width="25.6" height="26.4" fill="none" stroke="#000" stroke-width="1.1"/>
<path d="M894.4,263.2 H973" stroke="#fff" stroke-width="2.2"/>
<text x="930" y="257" font-size="13" text-anchor="middle" fill="#fff" stroke="#fff" textLength="28.3" lengthAdjust="spacingAndGlyphs" >1 km</text>
<rect x="507" y="11" width="24" height="23" fill="#fff"/>
<text x="511.4" y="27.3" font-size="15.5" text-anchor="start" fill="#000" stroke="#000" textLength="13.6" lengthAdjust="spacingAndGlyphs" >b)</text>
<rect x="510.5" y="47" width="58.5" height="168" fill="#fff"/>
<linearGradient id="jet" x1="0" y1="1" x2="0" y2="0"><stop offset="0" stop-color="#000080"/><stop offset="0.24" stop-color="#0000ff"/><stop offset="0.48" stop-color="#0080ff"/><stop offset="0.72" stop-color="#00ffff"/><stop offset="0.865" stop-color="#33ffcc"/><stop offset="1" stop-color="#94ff6b"/></linearGradient>
<rect x="529.5" y="55.5" width="13.5" height="153.5" fill="url(#jet)" stroke="#000" stroke-width="1"/>
<path d="M540,55.5 H543" stroke="#000" stroke-width="1"/>
<path d="M540,93.9 H543" stroke="#000" stroke-width="1"/>
<path d="M540,132.2 H543" stroke="#000" stroke-width="1"/>
<path d="M540,170.6 H543" stroke="#000" stroke-width="1"/>
<path d="M540,209 H543" stroke="#000" stroke-width="1"/>
<text x="545.3" y="63.3" font-size="18.5" text-anchor="start" fill="#000" stroke="#000" textLength="10.5" lengthAdjust="spacingAndGlyphs" >0</text>
<text x="544" y="138.4" font-size="18" text-anchor="start" fill="#000" stroke="#000" >-1</text>
<text x="544" y="214.5" font-size="18.5" text-anchor="start" fill="#000" stroke="#000" textLength="17" lengthAdjust="spacingAndGlyphs" >-2</text>
<text transform="translate(524.6,198.8) rotate(-90)" stroke="#000" font-size="16" textLength="133" lengthAdjust="spacingAndGlyphs">LOS velocity (cm/yr)</text>
<g stroke="#000" stroke-width="1">
<path d="M510,267.5 V275"/>
<path d="M593.3,267.5 V275"/>
<path d="M676.5,267.5 V275"/>
<path d="M760,267.5 V275"/>
<path d="M843.5,267.5 V275"/>
<path d="M927.5,267.5 V275"/>
<path d="M977,55.7 H984"/>
<path d="M977,133.6 H984"/>
<path d="M977,211.8 H984"/>
</g>
<text x="593.3" y="286" font-size="11.5" text-anchor="middle" fill="#000" stroke="#000" textLength="40.5" lengthAdjust="spacingAndGlyphs" >E120.25</text>
<text x="760.6" y="286" font-size="11.5" text-anchor="middle" fill="#000" stroke="#000" textLength="40.5" lengthAdjust="spacingAndGlyphs" >E120.27</text>
<text x="928.3" y="286" font-size="11.5" text-anchor="middle" fill="#000" stroke="#000" textLength="40.5" lengthAdjust="spacingAndGlyphs" >E120.29</text>
<text x="986.5" y="48.5" font-size="11.5" text-anchor="start" fill="#000" stroke="#000" >N</text>
<text x="985" y="61.5" font-size="11.5" text-anchor="start" fill="#000" stroke="#000" textLength="27.5" lengthAdjust="spacingAndGlyphs" >14.99</text>
<text x="983.6" y="217" font-size="11.5" text-anchor="start" fill="#000" stroke="#000" textLength="27.5" lengthAdjust="spacingAndGlyphs" >14.97</text>
<path d="M689.3,140.9 L415,357" stroke="#000" stroke-width="1"/>
<path d="M411.3,359.6 L413.9,353.2 L415.2,356.9 L418.7,358.3Z" fill="#000"/>
<g stroke="#000" stroke-width="2" fill="none">
<path d="M86,300.5 V503 H455.5"/>
<path d="M81.5,301.3 H86"/>
<path d="M81.5,330.1 H86"/>
<path d="M81.5,358.9 H86"/>
<path d="M81.5,387.7 H86"/>
<path d="M81.5,416.5 H86"/>
<path d="M81.5,445.4 H86"/>
<path d="M81.5,474.2 H86"/>
<path d="M81.5,503 H86"/>
<path d="M85.5,503 V507.5"/>
<path d="M159.4,503 V507.5"/>
<path d="M233.3,503 V507.5"/>
<path d="M307.2,503 V507.5"/>
<path d="M381.1,503 V507.5"/>
<path d="M455,503 V507.5"/>
</g>
<text x="71" y="308.6" font-size="14.3" text-anchor="end" fill="#000" stroke="#000" >4</text>
<text x="71" y="337.4" font-size="14.3" text-anchor="end" fill="#000" stroke="#000" >2</text>
<text x="71" y="366.2" font-size="14.3" text-anchor="end" fill="#000" stroke="#000" >0</text>
<text x="71" y="395" font-size="14.3" text-anchor="end" fill="#000" stroke="#000" >-2</text>
<text x="71" y="423.8" font-size="14.3" text-anchor="end" fill="#000" stroke="#000" >-4</text>
<text x="71" y="452.7" font-size="14.3" text-anchor="end" fill="#000" stroke="#000" >-6</text>
<text x="71" y="481.5" font-size="14.3" text-anchor="end" fill="#000" stroke="#000" >-8</text>
<text x="71" y="510.3" font-size="14.3" text-anchor="end" fill="#000" stroke="#000" >-10</text>
<text x="85.5" y="529.2" font-size="14.3" text-anchor="middle" fill="#000" stroke="#000" textLength="44" lengthAdjust="spacingAndGlyphs" >2006.5</text>
<text x="159.4" y="529.2" font-size="14.3" text-anchor="middle" fill="#000" stroke="#000" textLength="44" lengthAdjust="spacingAndGlyphs" >2007.5</text>
<text x="233.3" y="529.2" font-size="14.3" text-anchor="middle" fill="#000" stroke="#000" textLength="44" lengthAdjust="spacingAndGlyphs" >2008.5</text>
<text x="307.2" y="529.2" font-size="14.3" text-anchor="middle" fill="#000" stroke="#000" textLength="44" lengthAdjust="spacingAndGlyphs" >2009.5</text>
<text x="381.1" y="529.2" font-size="14.3" text-anchor="middle" fill="#000" stroke="#000" textLength="44" lengthAdjust="spacingAndGlyphs" >2010.5</text>
<text x="455" y="529.2" font-size="14.3" text-anchor="middle" fill="#000" stroke="#000" textLength="44" lengthAdjust="spacingAndGlyphs" >2011.5</text>
<text x="237.8" y="547.7" font-size="15" text-anchor="start" fill="#000" stroke="#000" textLength="67.5" lengthAdjust="spacingAndGlyphs" >Time (yrs)</text>
<text transform="translate(48.8,463.5) rotate(-90)" stroke="#000" font-size="16.2" textLength="126.5" lengthAdjust="spacingAndGlyphs">Displacement (cm)</text>
<text x="404.5" y="436.6" font-size="14.6" text-anchor="start" fill="#000" stroke="#000" textLength="69" lengthAdjust="spacingAndGlyphs" >-1.3 cm/yr</text>
<text x="25.5" y="308.5" font-size="16" text-anchor="start" fill="#000" stroke="#000" textLength="12" lengthAdjust="spacingAndGlyphs" >c)</text>
<path d="M127,347.6 L406.3,416" stroke="#555" stroke-width="1.3" fill="none"/>
<polyline points="127.3,358.9 155,364.7 164.6,391.9 174,330.5 182.9,353.8 191.7,380.8 201.4,352 220,335.6 238.7,380.2 247.9,364 257,405.6 266.1,368 275.5,359.7 303.7,383.3 312.9,399.8 331.4,430.8 340.8,397 350.2,386.3 396.4,474.1 406,371.8" fill="none" stroke="#000" stroke-width="1.2" stroke-dasharray="4 3"/>
<circle cx="127.3" cy="358.9" r="4.3" fill="#000"/>
<circle cx="155" cy="364.7" r="4.3" fill="#000"/>
<circle cx="164.6" cy="391.9" r="4.3" fill="#000"/>
<circle cx="174" cy="330.5" r="4.3" fill="#000"/>
<circle cx="182.9" cy="353.8" r="4.3" fill="#000"/>
<circle cx="191.7" cy="380.8" r="4.3" fill="#000"/>
<circle cx="201.4" cy="352" r="4.3" fill="#000"/>
<circle cx="220" cy="335.6" r="4.3" fill="#000"/>
<circle cx="238.7" cy="380.2" r="4.3" fill="#000"/>
<circle cx="247.9" cy="364" r="4.3" fill="#000"/>
<circle cx="257" cy="405.6" r="4.3" fill="#000"/>
<circle cx="266.1" cy="368" r="4.3" fill="#000"/>
<circle cx="275.5" cy="359.7" r="4.3" fill="#000"/>
<circle cx="303.7" cy="383.3" r="4.3" fill="#000"/>
<circle cx="312.9" cy="399.8" r="4.3" fill="#000"/>
<circle cx="331.4" cy="430.8" r="4.3" fill="#000"/>
<circle cx="340.8" cy="397" r="4.3" fill="#000"/>
<circle cx="350.2" cy="386.3" r="4.3" fill="#000"/>
<circle cx="396.4" cy="474.1" r="4.3" fill="#000"/>
<circle cx="406" cy="371.8" r="4.3" fill="#000"/>
<text x="519.5" y="308.4" font-size="16" text-anchor="start" fill="#000" stroke="#000" textLength="13.5" lengthAdjust="spacingAndGlyphs" >d)</text>
<text x="535.5" y="321.5" font-size="14" text-anchor="start" fill="#000" stroke="#000" textLength="10.5" lengthAdjust="spacingAndGlyphs" >N</text>
<text x="939.5" y="323.5" font-size="14" text-anchor="start" fill="#000" stroke="#000" textLength="8" lengthAdjust="spacingAndGlyphs" >S</text>
<text x="527.5" y="333.8" font-size="14" text-anchor="start" fill="#e8141c" stroke="#e8141c" >1</text>
<text x="525.5" y="418" font-size="14" text-anchor="start" fill="#e8141c" stroke="#e8141c" >2</text>
<path d="M536.5,322 L544.6,330 L551.5,340.8 L558.9,341.5 L566.5,330.4 L574,327 L581.5,328 L589,333.2 L596.5,329.3 L604,327 L611.5,330 L618.8,324.7 L626.4,328 L633.8,330.4 L641.4,351.6 L649,321.4 L656.4,328.6 L663.8,328.6 L671.4,340.1 L679,328.1 L686.4,332.1 L693.5,334 L701,326 L708.4,331.7 L716,331.2 L723.4,335.3 L731,337 L738.4,349.6 L746,365.8 L753.4,379.6 L761,393.5 L768.4,403.8 L776,406.8 L783.4,391.8 L791,403.4 L798.4,393.5 L806,374.5 L813.4,365.3 L821,349.6 L828.3,338.8 L836,344.7 L843.3,340.8 L851,351.6 L858.3,344.7 L866,341.5 L873.8,345.2 L880.9,342.8 L888.4,343.7 L896,347 L903.4,346 L911,335 L918.5,337.5 L926,338.7 L933.2,334.6 L940.6,331.6 L948.3,339.5 L948.3,352.5 L940.6,344.6 L933.2,347.6 L926,351.7 L918.5,350.5 L911,357 L903.4,368 L896,360 L888.4,356.7 L880.9,355.8 L873.8,358.2 L866,354.5 L858.3,357.7 L851,364.6 L843.3,353.8 L836,357.7 L828.3,354.8 L821,365.6 L813.4,381.3 L806,390.5 L798.4,409.5 L791,419.4 L783.4,407.8 L776,422.8 L768.4,419.8 L761,409.5 L753.4,395.6 L746,381.8 L738.4,365.6 L731,353 L723.4,351.3 L716,347.2 L708.4,347.7 L701,342 L693.5,335.2 L686.4,333.3 L679,329.3 L671.4,341.3 L663.8,329.8 L656.4,329.8 L649,339.4 L641.4,357.6 L633.8,346.4 L626.4,344 L618.8,340.7 L611.5,346 L604,343 L596.5,345.3 L589,349.2 L581.5,344 L574,343 L566.5,346.4 L558.9,357.5 L551.5,356.8 L544.6,342 L536.5,334Z" fill="#e3e3e3"/>
<path d="M536,405.2 L540.7,406.6 L550.6,399.4 L560.4,399.1 L570.5,399.1 L581.2,394.6 L591.3,397.3 L601.1,411.7 L611.8,407.4 L622.4,414.9 L633,418.1 L653,408.7 L663.6,417.4 L673.7,418.8 L684.4,429.4 L694.2,418.9 L704.5,425 L714.5,420 L724.9,427.4 L735,442.8 L745.6,465.2 L755.8,466.6 L766.4,479.2 L776.5,491.9 L786.4,482 L796.8,481.3 L807.1,469.3 L817.5,452.8 L827.9,445.1 L837.8,437.5 L847.9,442.2 L858.5,451.9 L889.1,448.8 L920.2,424.1 L930.4,424.5 L940.5,433.3 L948.7,429.5 L948.7,441.5 L940.5,445.3 L930.4,436.5 L920.2,425.3 L889.1,450 L858.5,453.1 L847.9,460.2 L837.8,455.5 L827.9,463.1 L817.5,470.8 L807.1,487.3 L796.8,499.3 L786.4,500 L776.5,509.9 L766.4,497.2 L755.8,484.6 L745.6,483.2 L735,460.8 L724.9,445.4 L714.5,438 L704.5,443 L694.2,436.9 L684.4,430.6 L673.7,420 L663.6,418.6 L653,409.9 L633,428.1 L622.4,424.9 L611.8,417.4 L601.1,421.7 L591.3,413.3 L581.2,410.6 L570.5,415.1 L560.4,415.1 L550.6,415.4 L540.7,422.6 L536,421.2Z" fill="#e3e3e3"/>
<circle cx="536.5" cy="317.4" r="1.6" fill="#000"/>
<circle cx="536.5" cy="337.5" r="1.6" fill="#000"/>
<circle cx="536.5" cy="323" r="1.4" fill="#8a8a8a"/>
<circle cx="536.5" cy="331.2" r="1.4" fill="#8a8a8a"/>
<circle cx="544.6" cy="324" r="1.6" fill="#000"/>
<circle cx="544.6" cy="346.9" r="1.6" fill="#000"/>
<circle cx="544.6" cy="332.8" r="1.4" fill="#8a8a8a"/>
<circle cx="544.6" cy="340.5" r="1.4" fill="#8a8a8a"/>
<circle cx="551.5" cy="338.1" r="1.6" fill="#000"/>
<circle cx="551.5" cy="362.1" r="1.6" fill="#000"/>
<circle cx="551.5" cy="345.5" r="1.4" fill="#8a8a8a"/>
<circle cx="551.5" cy="352.3" r="1.4" fill="#8a8a8a"/>
<circle cx="558.9" cy="336.2" r="1.6" fill="#000"/>
<circle cx="558.9" cy="365.4" r="1.6" fill="#000"/>
<circle cx="558.9" cy="345.9" r="1.4" fill="#8a8a8a"/>
<circle cx="558.9" cy="353.6" r="1.4" fill="#8a8a8a"/>
<circle cx="566.5" cy="323.8" r="1.6" fill="#000"/>
<circle cx="566.5" cy="355.1" r="1.6" fill="#000"/>
<circle cx="566.5" cy="332.5" r="1.4" fill="#8a8a8a"/>
<circle cx="566.5" cy="343.4" r="1.4" fill="#8a8a8a"/>
<circle cx="574" cy="318.2" r="1.6" fill="#000"/>
<circle cx="574" cy="345.8" r="1.6" fill="#000"/>
<circle cx="574" cy="327.7" r="1.4" fill="#8a8a8a"/>
<circle cx="574" cy="339.4" r="1.4" fill="#8a8a8a"/>
<circle cx="581.5" cy="324.6" r="1.6" fill="#000"/>
<circle cx="581.5" cy="347.3" r="1.6" fill="#000"/>
<circle cx="581.5" cy="331.5" r="1.4" fill="#8a8a8a"/>
<circle cx="581.5" cy="343.1" r="1.4" fill="#8a8a8a"/>
<circle cx="589" cy="329.5" r="1.6" fill="#000"/>
<circle cx="589" cy="355.5" r="1.6" fill="#000"/>
<circle cx="589" cy="335" r="1.4" fill="#8a8a8a"/>
<circle cx="589" cy="346.1" r="1.4" fill="#8a8a8a"/>
<circle cx="596.5" cy="323.2" r="1.6" fill="#000"/>
<circle cx="596.5" cy="348.2" r="1.6" fill="#000"/>
<circle cx="596.5" cy="334" r="1.4" fill="#8a8a8a"/>
<circle cx="596.5" cy="341.3" r="1.4" fill="#8a8a8a"/>
<circle cx="604" cy="320.1" r="1.6" fill="#000"/>
<circle cx="604" cy="348.3" r="1.6" fill="#000"/>
<circle cx="604" cy="330.4" r="1.4" fill="#8a8a8a"/>
<circle cx="604" cy="340.9" r="1.4" fill="#8a8a8a"/>
<circle cx="611.5" cy="324.6" r="1.6" fill="#000"/>
<circle cx="611.5" cy="350.4" r="1.6" fill="#000"/>
<circle cx="611.5" cy="331" r="1.4" fill="#8a8a8a"/>
<circle cx="611.5" cy="344.5" r="1.4" fill="#8a8a8a"/>
<circle cx="618.8" cy="320.6" r="1.6" fill="#000"/>
<circle cx="618.8" cy="346.9" r="1.6" fill="#000"/>
<circle cx="618.8" cy="327.1" r="1.4" fill="#8a8a8a"/>
<circle cx="618.8" cy="340.1" r="1.4" fill="#8a8a8a"/>
<circle cx="626.4" cy="320.8" r="1.6" fill="#000"/>
<circle cx="626.4" cy="348.4" r="1.6" fill="#000"/>
<circle cx="626.4" cy="328.1" r="1.4" fill="#8a8a8a"/>
<circle cx="626.4" cy="339.6" r="1.4" fill="#8a8a8a"/>
<circle cx="633.8" cy="325.2" r="1.6" fill="#000"/>
<circle cx="633.8" cy="353.8" r="1.6" fill="#000"/>
<circle cx="633.8" cy="334.6" r="1.4" fill="#8a8a8a"/>
<circle cx="633.8" cy="343.8" r="1.4" fill="#8a8a8a"/>
<circle cx="641.4" cy="348.8" r="1.6" fill="#000"/>
<circle cx="641.4" cy="364.4" r="1.6" fill="#000"/>
<circle cx="641.4" cy="351.6" r="1.4" fill="#8a8a8a"/>
<circle cx="641.4" cy="357.6" r="1.4" fill="#8a8a8a"/>
<circle cx="649" cy="313.2" r="1.6" fill="#000"/>
<circle cx="649" cy="343.9" r="1.6" fill="#000"/>
<circle cx="649" cy="323.2" r="1.4" fill="#8a8a8a"/>
<circle cx="649" cy="337" r="1.4" fill="#8a8a8a"/>
<circle cx="656.4" cy="329.2" r="1.6" fill="#000"/>
<circle cx="663.8" cy="329.2" r="1.6" fill="#000"/>
<circle cx="671.4" cy="340.7" r="1.6" fill="#000"/>
<circle cx="679" cy="328.7" r="1.6" fill="#000"/>
<circle cx="686.4" cy="332.7" r="1.6" fill="#000"/>
<circle cx="693.5" cy="334.6" r="1.6" fill="#000"/>
<circle cx="701" cy="319.7" r="1.6" fill="#000"/>
<circle cx="701" cy="347.5" r="1.6" fill="#000"/>
<circle cx="701" cy="326.8" r="1.4" fill="#8a8a8a"/>
<circle cx="701" cy="341.7" r="1.4" fill="#8a8a8a"/>
<circle cx="708.4" cy="326.1" r="1.6" fill="#000"/>
<circle cx="708.4" cy="354.5" r="1.6" fill="#000"/>
<circle cx="708.4" cy="336.4" r="1.4" fill="#8a8a8a"/>
<circle cx="708.4" cy="346.2" r="1.4" fill="#8a8a8a"/>
<circle cx="716" cy="324.5" r="1.6" fill="#000"/>
<circle cx="716" cy="356.2" r="1.6" fill="#000"/>
<circle cx="716" cy="332.1" r="1.4" fill="#8a8a8a"/>
<circle cx="716" cy="343.6" r="1.4" fill="#8a8a8a"/>
<circle cx="723.4" cy="330.3" r="1.6" fill="#000"/>
<circle cx="723.4" cy="358.1" r="1.6" fill="#000"/>
<circle cx="723.4" cy="340.2" r="1.4" fill="#8a8a8a"/>
<circle cx="723.4" cy="348.6" r="1.4" fill="#8a8a8a"/>
<circle cx="731" cy="333.4" r="1.6" fill="#000"/>
<circle cx="731" cy="356.3" r="1.6" fill="#000"/>
<circle cx="731" cy="341.7" r="1.4" fill="#8a8a8a"/>
<circle cx="731" cy="351.8" r="1.4" fill="#8a8a8a"/>
<circle cx="738.4" cy="346.3" r="1.6" fill="#000"/>
<circle cx="738.4" cy="369.7" r="1.6" fill="#000"/>
<circle cx="738.4" cy="352.6" r="1.4" fill="#8a8a8a"/>
<circle cx="738.4" cy="365" r="1.4" fill="#8a8a8a"/>
<circle cx="746" cy="362.8" r="1.6" fill="#000"/>
<circle cx="746" cy="387.2" r="1.6" fill="#000"/>
<circle cx="746" cy="368.1" r="1.4" fill="#8a8a8a"/>
<circle cx="746" cy="381.2" r="1.4" fill="#8a8a8a"/>
<circle cx="753.4" cy="371.8" r="1.6" fill="#000"/>
<circle cx="753.4" cy="403.7" r="1.6" fill="#000"/>
<circle cx="753.4" cy="383.2" r="1.4" fill="#8a8a8a"/>
<circle cx="753.4" cy="392.7" r="1.4" fill="#8a8a8a"/>
<circle cx="761" cy="388.7" r="1.6" fill="#000"/>
<circle cx="761" cy="417.7" r="1.6" fill="#000"/>
<circle cx="761" cy="393.7" r="1.4" fill="#8a8a8a"/>
<circle cx="761" cy="405.3" r="1.4" fill="#8a8a8a"/>
<circle cx="768.4" cy="400.2" r="1.6" fill="#000"/>
<circle cx="768.4" cy="423.8" r="1.6" fill="#000"/>
<circle cx="768.4" cy="407.6" r="1.4" fill="#8a8a8a"/>
<circle cx="768.4" cy="417.2" r="1.4" fill="#8a8a8a"/>
<circle cx="776" cy="400.5" r="1.6" fill="#000"/>
<circle cx="776" cy="427" r="1.6" fill="#000"/>
<circle cx="776" cy="411.8" r="1.4" fill="#8a8a8a"/>
<circle cx="776" cy="419.9" r="1.4" fill="#8a8a8a"/>
<circle cx="783.4" cy="386.9" r="1.6" fill="#000"/>
<circle cx="783.4" cy="414" r="1.6" fill="#000"/>
<circle cx="783.4" cy="392" r="1.4" fill="#8a8a8a"/>
<circle cx="783.4" cy="406.3" r="1.4" fill="#8a8a8a"/>
<circle cx="791" cy="397.5" r="1.6" fill="#000"/>
<circle cx="791" cy="425.9" r="1.6" fill="#000"/>
<circle cx="791" cy="405" r="1.4" fill="#8a8a8a"/>
<circle cx="791" cy="414.7" r="1.4" fill="#8a8a8a"/>
<circle cx="798.4" cy="385.2" r="1.6" fill="#000"/>
<circle cx="798.4" cy="417.1" r="1.6" fill="#000"/>
<circle cx="798.4" cy="394.1" r="1.4" fill="#8a8a8a"/>
<circle cx="798.4" cy="408.5" r="1.4" fill="#8a8a8a"/>
<circle cx="806" cy="369.4" r="1.6" fill="#000"/>
<circle cx="806" cy="395.6" r="1.6" fill="#000"/>
<circle cx="806" cy="379" r="1.4" fill="#8a8a8a"/>
<circle cx="806" cy="388.7" r="1.4" fill="#8a8a8a"/>
<circle cx="813.4" cy="362.4" r="1.6" fill="#000"/>
<circle cx="813.4" cy="384.2" r="1.6" fill="#000"/>
<circle cx="813.4" cy="369.3" r="1.4" fill="#8a8a8a"/>
<circle cx="813.4" cy="377.1" r="1.4" fill="#8a8a8a"/>
<circle cx="821" cy="344.9" r="1.6" fill="#000"/>
<circle cx="821" cy="368.4" r="1.6" fill="#000"/>
<circle cx="821" cy="354.6" r="1.4" fill="#8a8a8a"/>
<circle cx="821" cy="361.4" r="1.4" fill="#8a8a8a"/>
<circle cx="828.3" cy="335.6" r="1.6" fill="#000"/>
<circle cx="828.3" cy="359.7" r="1.6" fill="#000"/>
<circle cx="828.3" cy="343.7" r="1.4" fill="#8a8a8a"/>
<circle cx="828.3" cy="354.2" r="1.4" fill="#8a8a8a"/>
<circle cx="836" cy="338.2" r="1.6" fill="#000"/>
<circle cx="836" cy="361.2" r="1.6" fill="#000"/>
<circle cx="836" cy="347.3" r="1.4" fill="#8a8a8a"/>
<circle cx="836" cy="355.4" r="1.4" fill="#8a8a8a"/>
<circle cx="843.3" cy="335.9" r="1.6" fill="#000"/>
<circle cx="843.3" cy="357.1" r="1.6" fill="#000"/>
<circle cx="843.3" cy="341.3" r="1.4" fill="#8a8a8a"/>
<circle cx="843.3" cy="353.8" r="1.4" fill="#8a8a8a"/>
<circle cx="851" cy="346.1" r="1.6" fill="#000"/>
<circle cx="851" cy="370.2" r="1.6" fill="#000"/>
<circle cx="851" cy="354.8" r="1.4" fill="#8a8a8a"/>
<circle cx="851" cy="361.5" r="1.4" fill="#8a8a8a"/>
<circle cx="858.3" cy="340" r="1.6" fill="#000"/>
<circle cx="858.3" cy="361.9" r="1.6" fill="#000"/>
<circle cx="858.3" cy="345.3" r="1.4" fill="#8a8a8a"/>
<circle cx="858.3" cy="354.8" r="1.4" fill="#8a8a8a"/>
<circle cx="866" cy="338.8" r="1.6" fill="#000"/>
<circle cx="866" cy="363.2" r="1.6" fill="#000"/>
<circle cx="866" cy="343.2" r="1.4" fill="#8a8a8a"/>
<circle cx="866" cy="351.5" r="1.4" fill="#8a8a8a"/>
<circle cx="873.8" cy="339.2" r="1.6" fill="#000"/>
<circle cx="873.8" cy="360.9" r="1.6" fill="#000"/>
<circle cx="873.8" cy="346.9" r="1.4" fill="#8a8a8a"/>
<circle cx="873.8" cy="358.1" r="1.4" fill="#8a8a8a"/>
<circle cx="880.9" cy="334.7" r="1.6" fill="#000"/>
<circle cx="880.9" cy="362.8" r="1.6" fill="#000"/>
<circle cx="880.9" cy="345.4" r="1.4" fill="#8a8a8a"/>
<circle cx="880.9" cy="353.6" r="1.4" fill="#8a8a8a"/>
<circle cx="888.4" cy="340.1" r="1.6" fill="#000"/>
<circle cx="888.4" cy="364.2" r="1.6" fill="#000"/>
<circle cx="888.4" cy="345.3" r="1.4" fill="#8a8a8a"/>
<circle cx="888.4" cy="355.9" r="1.4" fill="#8a8a8a"/>
<circle cx="896" cy="342.4" r="1.6" fill="#000"/>
<circle cx="896" cy="363.9" r="1.6" fill="#000"/>
<circle cx="896" cy="347.7" r="1.4" fill="#8a8a8a"/>
<circle cx="896" cy="359.9" r="1.4" fill="#8a8a8a"/>
<circle cx="903.4" cy="338" r="1.6" fill="#000"/>
<circle cx="903.4" cy="375.7" r="1.6" fill="#000"/>
<circle cx="903.4" cy="347.5" r="1.4" fill="#8a8a8a"/>
<circle cx="903.4" cy="365.9" r="1.4" fill="#8a8a8a"/>
<circle cx="911" cy="331" r="1.6" fill="#000"/>
<circle cx="911" cy="362.9" r="1.6" fill="#000"/>
<circle cx="911" cy="340.2" r="1.4" fill="#8a8a8a"/>
<circle cx="911" cy="349.2" r="1.4" fill="#8a8a8a"/>
<circle cx="918.5" cy="334.8" r="1.6" fill="#000"/>
<circle cx="918.5" cy="354.8" r="1.6" fill="#000"/>
<circle cx="918.5" cy="340.1" r="1.4" fill="#8a8a8a"/>
<circle cx="918.5" cy="349.4" r="1.4" fill="#8a8a8a"/>
<circle cx="926" cy="330" r="1.6" fill="#000"/>
<circle cx="926" cy="357.1" r="1.6" fill="#000"/>
<circle cx="926" cy="338.9" r="1.4" fill="#8a8a8a"/>
<circle cx="926" cy="351.7" r="1.4" fill="#8a8a8a"/>
<circle cx="933.2" cy="325.9" r="1.6" fill="#000"/>
<circle cx="933.2" cy="352.5" r="1.6" fill="#000"/>
<circle cx="933.2" cy="337.3" r="1.4" fill="#8a8a8a"/>
<circle cx="933.2" cy="344.9" r="1.4" fill="#8a8a8a"/>
<circle cx="940.6" cy="327.8" r="1.6" fill="#000"/>
<circle cx="940.6" cy="348.4" r="1.6" fill="#000"/>
<circle cx="940.6" cy="332.9" r="1.4" fill="#8a8a8a"/>
<circle cx="940.6" cy="344.3" r="1.4" fill="#8a8a8a"/>
<circle cx="948.3" cy="331.5" r="1.6" fill="#000"/>
<circle cx="948.3" cy="358.1" r="1.6" fill="#000"/>
<circle cx="948.3" cy="340.7" r="1.4" fill="#8a8a8a"/>
<circle cx="948.3" cy="351.8" r="1.4" fill="#8a8a8a"/>
<circle cx="536" cy="402.1" r="1.6" fill="#000"/>
<circle cx="536" cy="428" r="1.6" fill="#000"/>
<circle cx="536" cy="405.7" r="1.4" fill="#8a8a8a"/>
<circle cx="536" cy="420.1" r="1.4" fill="#8a8a8a"/>
<circle cx="540.7" cy="399.2" r="1.6" fill="#000"/>
<circle cx="540.7" cy="428.2" r="1.6" fill="#000"/>
<circle cx="540.7" cy="410.7" r="1.4" fill="#8a8a8a"/>
<circle cx="540.7" cy="421.5" r="1.4" fill="#8a8a8a"/>
<circle cx="550.6" cy="394.7" r="1.6" fill="#000"/>
<circle cx="550.6" cy="423.1" r="1.6" fill="#000"/>
<circle cx="550.6" cy="399.5" r="1.4" fill="#8a8a8a"/>
<circle cx="550.6" cy="412.4" r="1.4" fill="#8a8a8a"/>
<circle cx="560.4" cy="394" r="1.6" fill="#000"/>
<circle cx="560.4" cy="423.8" r="1.6" fill="#000"/>
<circle cx="560.4" cy="400.5" r="1.4" fill="#8a8a8a"/>
<circle cx="560.4" cy="411" r="1.4" fill="#8a8a8a"/>
<circle cx="570.5" cy="395.8" r="1.6" fill="#000"/>
<circle cx="570.5" cy="418.6" r="1.6" fill="#000"/>
<circle cx="570.5" cy="399.6" r="1.4" fill="#8a8a8a"/>
<circle cx="570.5" cy="414.1" r="1.4" fill="#8a8a8a"/>
<circle cx="581.2" cy="391.1" r="1.6" fill="#000"/>
<circle cx="581.2" cy="418.5" r="1.6" fill="#000"/>
<circle cx="581.2" cy="394.7" r="1.4" fill="#8a8a8a"/>
<circle cx="581.2" cy="408.9" r="1.4" fill="#8a8a8a"/>
<circle cx="591.3" cy="392.5" r="1.6" fill="#000"/>
<circle cx="591.3" cy="419.4" r="1.6" fill="#000"/>
<circle cx="591.3" cy="401.6" r="1.4" fill="#8a8a8a"/>
<circle cx="591.3" cy="408.4" r="1.4" fill="#8a8a8a"/>
<circle cx="601.1" cy="402.9" r="1.6" fill="#000"/>
<circle cx="601.1" cy="428.4" r="1.6" fill="#000"/>
<circle cx="601.1" cy="412.6" r="1.4" fill="#8a8a8a"/>
<circle cx="601.1" cy="421.6" r="1.4" fill="#8a8a8a"/>
<circle cx="611.8" cy="402.1" r="1.6" fill="#000"/>
<circle cx="611.8" cy="425.6" r="1.6" fill="#000"/>
<circle cx="611.8" cy="407.7" r="1.4" fill="#8a8a8a"/>
<circle cx="611.8" cy="415.8" r="1.4" fill="#8a8a8a"/>
<circle cx="622.4" cy="410.8" r="1.6" fill="#000"/>
<circle cx="622.4" cy="429.3" r="1.6" fill="#000"/>
<circle cx="622.4" cy="416.4" r="1.4" fill="#8a8a8a"/>
<circle cx="622.4" cy="424.1" r="1.4" fill="#8a8a8a"/>
<circle cx="633" cy="413.9" r="1.6" fill="#000"/>
<circle cx="633" cy="433.3" r="1.6" fill="#000"/>
<circle cx="633" cy="419.8" r="1.4" fill="#8a8a8a"/>
<circle cx="633" cy="427.9" r="1.4" fill="#8a8a8a"/>
<circle cx="653" cy="409.3" r="1.6" fill="#000"/>
<circle cx="663.6" cy="418" r="1.6" fill="#000"/>
<circle cx="673.7" cy="419.4" r="1.6" fill="#000"/>
<circle cx="684.4" cy="430" r="1.6" fill="#000"/>
<circle cx="694.2" cy="414.1" r="1.6" fill="#000"/>
<circle cx="694.2" cy="442.4" r="1.6" fill="#000"/>
<circle cx="694.2" cy="421.4" r="1.4" fill="#8a8a8a"/>
<circle cx="694.2" cy="436.3" r="1.4" fill="#8a8a8a"/>
<circle cx="704.5" cy="419.8" r="1.6" fill="#000"/>
<circle cx="704.5" cy="451.5" r="1.6" fill="#000"/>
<circle cx="704.5" cy="428" r="1.4" fill="#8a8a8a"/>
<circle cx="704.5" cy="440.2" r="1.4" fill="#8a8a8a"/>
<circle cx="714.5" cy="414.1" r="1.6" fill="#000"/>
<circle cx="714.5" cy="440.6" r="1.6" fill="#000"/>
<circle cx="714.5" cy="423.4" r="1.4" fill="#8a8a8a"/>
<circle cx="714.5" cy="433.1" r="1.4" fill="#8a8a8a"/>
<circle cx="724.9" cy="424.9" r="1.6" fill="#000"/>
<circle cx="724.9" cy="453.1" r="1.6" fill="#000"/>
<circle cx="724.9" cy="432.4" r="1.4" fill="#8a8a8a"/>
<circle cx="724.9" cy="442.2" r="1.4" fill="#8a8a8a"/>
<circle cx="735" cy="435.6" r="1.6" fill="#000"/>
<circle cx="735" cy="466.9" r="1.6" fill="#000"/>
<circle cx="735" cy="446.8" r="1.4" fill="#8a8a8a"/>
<circle cx="735" cy="457.9" r="1.4" fill="#8a8a8a"/>
<circle cx="745.6" cy="459.1" r="1.6" fill="#000"/>
<circle cx="745.6" cy="490.8" r="1.6" fill="#000"/>
<circle cx="745.6" cy="470.6" r="1.4" fill="#8a8a8a"/>
<circle cx="745.6" cy="480.6" r="1.4" fill="#8a8a8a"/>
<circle cx="755.8" cy="462.5" r="1.6" fill="#000"/>
<circle cx="755.8" cy="488.9" r="1.6" fill="#000"/>
<circle cx="755.8" cy="468" r="1.4" fill="#8a8a8a"/>
<circle cx="755.8" cy="481.6" r="1.4" fill="#8a8a8a"/>
<circle cx="766.4" cy="473" r="1.6" fill="#000"/>
<circle cx="766.4" cy="504.6" r="1.6" fill="#000"/>
<circle cx="766.4" cy="479.7" r="1.4" fill="#8a8a8a"/>
<circle cx="766.4" cy="493.9" r="1.4" fill="#8a8a8a"/>
<circle cx="776.5" cy="485.4" r="1.6" fill="#000"/>
<circle cx="776.5" cy="515.7" r="1.6" fill="#000"/>
<circle cx="776.5" cy="494.8" r="1.4" fill="#8a8a8a"/>
<circle cx="776.5" cy="508.1" r="1.4" fill="#8a8a8a"/>
<circle cx="786.4" cy="476.6" r="1.6" fill="#000"/>
<circle cx="786.4" cy="506" r="1.6" fill="#000"/>
<circle cx="786.4" cy="485.1" r="1.4" fill="#8a8a8a"/>
<circle cx="786.4" cy="499.6" r="1.4" fill="#8a8a8a"/>
<circle cx="796.8" cy="474.3" r="1.6" fill="#000"/>
<circle cx="796.8" cy="507.5" r="1.6" fill="#000"/>
<circle cx="796.8" cy="481.6" r="1.4" fill="#8a8a8a"/>
<circle cx="796.8" cy="494.9" r="1.4" fill="#8a8a8a"/>
<circle cx="807.1" cy="463.2" r="1.6" fill="#000"/>
<circle cx="807.1" cy="495.9" r="1.6" fill="#000"/>
<circle cx="807.1" cy="470.3" r="1.4" fill="#8a8a8a"/>
<circle cx="807.1" cy="482.1" r="1.4" fill="#8a8a8a"/>
<circle cx="817.5" cy="449.5" r="1.6" fill="#000"/>
<circle cx="817.5" cy="476.2" r="1.6" fill="#000"/>
<circle cx="817.5" cy="458.4" r="1.4" fill="#8a8a8a"/>
<circle cx="817.5" cy="466.2" r="1.4" fill="#8a8a8a"/>
<circle cx="827.9" cy="442.1" r="1.6" fill="#000"/>
<circle cx="827.9" cy="470" r="1.6" fill="#000"/>
<circle cx="827.9" cy="446.4" r="1.4" fill="#8a8a8a"/>
<circle cx="827.9" cy="462.5" r="1.4" fill="#8a8a8a"/>
<circle cx="837.8" cy="434" r="1.6" fill="#000"/>
<circle cx="837.8" cy="462.7" r="1.6" fill="#000"/>
<circle cx="837.8" cy="439.5" r="1.4" fill="#8a8a8a"/>
<circle cx="837.8" cy="450.4" r="1.4" fill="#8a8a8a"/>
<circle cx="847.9" cy="434" r="1.6" fill="#000"/>
<circle cx="847.9" cy="469" r="1.6" fill="#000"/>
<circle cx="847.9" cy="446.9" r="1.4" fill="#8a8a8a"/>
<circle cx="847.9" cy="459.9" r="1.4" fill="#8a8a8a"/>
<circle cx="858.5" cy="452.5" r="1.6" fill="#000"/>
<circle cx="889.1" cy="449.4" r="1.6" fill="#000"/>
<circle cx="920.2" cy="424.7" r="1.6" fill="#000"/>
<circle cx="930.4" cy="419.4" r="1.6" fill="#000"/>
<circle cx="930.4" cy="442.2" r="1.6" fill="#000"/>
<circle cx="930.4" cy="424.5" r="1.4" fill="#8a8a8a"/>
<circle cx="930.4" cy="436" r="1.4" fill="#8a8a8a"/>
<circle cx="940.5" cy="429.8" r="1.6" fill="#000"/>
<circle cx="940.5" cy="450.6" r="1.6" fill="#000"/>
<circle cx="940.5" cy="434.8" r="1.4" fill="#8a8a8a"/>
<circle cx="940.5" cy="443.3" r="1.4" fill="#8a8a8a"/>
<circle cx="948.7" cy="425.7" r="1.6" fill="#000"/>
<circle cx="948.7" cy="446.1" r="1.6" fill="#000"/>
<circle cx="948.7" cy="430.3" r="1.4" fill="#8a8a8a"/>
<circle cx="948.7" cy="438.6" r="1.4" fill="#8a8a8a"/>
<polyline points="536.5,328 544.6,336 551.5,348.8 558.9,349.5 566.5,338.4 574,335 581.5,336 589,341.2 596.5,337.3 604,335 611.5,338 618.8,332.7 626.4,336 633.8,338.4 641.4,354.6 649,330.4 656.4,329.2 663.8,329.2 671.4,340.7 679,328.7 686.4,332.7 693.5,334.6 701,334 708.4,339.7 716,339.2 723.4,343.3 731,345 738.4,357.6 746,373.8 753.4,387.6 761,401.5 768.4,411.8 776,414.8 783.4,399.8 791,411.4 798.4,401.5 806,382.5 813.4,373.3 821,357.6 828.3,346.8 836,351.2 843.3,347.3 851,358.1 858.3,351.2 866,348 873.8,351.7 880.9,349.3 888.4,350.2 896,353.5 903.4,357 911,346 918.5,344 926,345.2 933.2,341.1 940.6,338.1 948.3,346" fill="none" stroke="#ee3333" stroke-width="1.3"/>
<polyline points="536,413.2 540.7,414.6 550.6,407.4 560.4,407.1 570.5,407.1 581.2,402.6 591.3,405.3 601.1,416.7 611.8,412.4 622.4,419.9 633,423.1 653,409.3 663.6,418 673.7,419.4 684.4,430 694.2,427.9 704.5,434 714.5,429 724.9,436.4 735,451.8 745.6,474.2 755.8,475.6 766.4,488.2 776.5,500.9 786.4,491 796.8,490.3 807.1,478.3 817.5,461.8 827.9,454.1 837.8,446.5 847.9,451.2 858.5,452.5 889.1,449.4 920.2,424.7 930.4,430.5 940.5,439.3 948.7,435.5" fill="none" stroke="#ee3333" stroke-width="1.3"/>
<text x="807.5" y="324.2" font-size="14" text-anchor="middle" fill="#000" stroke="#000" textLength="76" lengthAdjust="spacingAndGlyphs" font-weight="bold" >Mining site</text>
<text x="807.5" y="335.7" font-size="14" text-anchor="middle" fill="#000" stroke="#000" textLength="43.8" lengthAdjust="spacingAndGlyphs" font-weight="bold" >extent</text>
<path d="M796,346.6 H828.3 M718.4,430.6 H748.8" stroke="#000" stroke-width="3"/>
<g stroke="#333" stroke-width="1.3"><path d="M536,520.5 H978"/>
<path d="M536.5,520.5 V517.5"/>
<path d="M591.7,520.5 V517.5"/>
<path d="M646.9,520.5 V517.5"/>
<path d="M702.1,520.5 V517.5"/>
<path d="M757.3,520.5 V517.5"/>
<path d="M812.5,520.5 V517.5"/>
<path d="M867.7,520.5 V517.5"/>
<path d="M922.9,520.5 V517.5"/>
<path d="M978.1,520.5 V517.5"/>
</g>
<text x="536.5" y="534.6" font-size="14" text-anchor="middle" fill="#000" stroke="#000" >0</text>
<text x="591.7" y="534.6" font-size="14" text-anchor="middle" fill="#000" stroke="#000" >2</text>
<text x="646.9" y="534.6" font-size="14" text-anchor="middle" fill="#000" stroke="#000" >4</text>
<text x="702.1" y="534.6" font-size="14" text-anchor="middle" fill="#000" stroke="#000" >6</text>
<text x="757.3" y="534.6" font-size="14" text-anchor="middle" fill="#000" stroke="#000" >8</text>
<text x="812.5" y="534.6" font-size="14" text-anchor="middle" fill="#000" stroke="#000" >10</text>
<text x="867.7" y="534.6" font-size="14" text-anchor="middle" fill="#000" stroke="#000" >12</text>
<text x="922.9" y="534.6" font-size="14" text-anchor="middle" fill="#000" stroke="#000" >14</text>
<text x="978.1" y="534.6" font-size="14" text-anchor="middle" fill="#000" stroke="#000" >16</text>
<text x="666" y="548" font-size="15" text-anchor="start" fill="#000" stroke="#000" textLength="187" lengthAdjust="spacingAndGlyphs" >Along Profile Distance (km)</text>
<text x="531.9" y="467.8" font-size="15" text-anchor="start" fill="#000" stroke="#000" textLength="84" lengthAdjust="spacingAndGlyphs" >LOS velocity</text>
<path d="M554.2,471.8 V518" stroke="#444" stroke-width="1.5"/>
<text x="559" y="499.6" font-size="15" text-anchor="start" fill="#000" stroke="#000" textLength="64" lengthAdjust="spacingAndGlyphs" >0.5 cm/yr</text>
<path d="M881.8,479.1 H900.7" stroke="#f08080" stroke-width="1.2"/>
<rect x="879.8" y="488.7" width="20.3" height="11.6" fill="#dedede"/>
<circle cx="891.4" cy="510.5" r="1.5" fill="#000"/>
<text x="903" y="484.9" font-size="15" text-anchor="start" fill="#000" stroke="#000" textLength="39.5" lengthAdjust="spacingAndGlyphs" >Mean</text>
<text x="903" y="500.3" font-size="15" text-anchor="start" fill="#000" stroke="#000" textLength="40.5" lengthAdjust="spacingAndGlyphs" >Stdev</text>
<text x="903" y="514.9" font-size="15" text-anchor="start" fill="#000" stroke="#000" textLength="75.5" lengthAdjust="spacingAndGlyphs" >InSAR data</text>
</svg>
</body></html>
